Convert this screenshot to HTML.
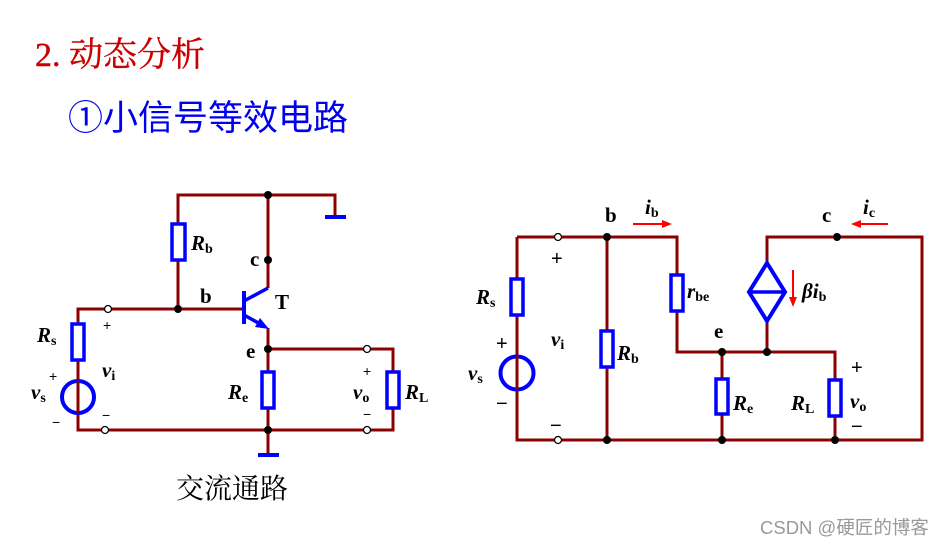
<!DOCTYPE html>
<html><head><meta charset="utf-8"><style>
html,body{margin:0;padding:0;background:#fff;}
svg{display:block;}
.w{stroke:#8b0000;stroke-width:3;fill:none;}
.r{stroke:#0000ff;stroke-width:3.5;fill:#fff;}
.l{font-family:"Liberation Serif",serif;font-weight:bold;font-size:21px;fill:#000;}
.s{font-size:14px;}
.p{font-family:"Liberation Sans",sans-serif;font-size:14px;fill:#000;}
.P{font-family:"Liberation Sans",sans-serif;font-size:20px;fill:#000;}
</style></head><body>
<svg width="947" height="546" viewBox="0 0 947 546" xmlns="http://www.w3.org/2000/svg">
<text x="35" y="66" font-family="Liberation Serif, 'Noto Serif CJK SC', serif" font-size="34" fill="#cc0000" stroke="#cc0000" stroke-width="0.4">2. 动态分析</text>
<text x="68" y="130" font-family="'Liberation Serif','Noto Sans CJK SC',sans-serif" font-size="35" fill="#0000ee">①小信号等效电路</text>
<text x="176" y="498" font-family="'Liberation Serif','Noto Serif CJK SC',serif" font-size="28" fill="#000">交流通路</text>
<text x="760" y="534" font-family="'Liberation Sans','Noto Sans CJK SC',sans-serif" font-size="18.5" fill="#999">CSDN @硬匠的博客</text>

<!-- LEFT CIRCUIT -->
<g class="w">
<polyline points="178,309 178,195 335,195 335,217"/>
<line x1="268" y1="195" x2="268" y2="288"/>
<line x1="268" y1="328" x2="268" y2="455"/>
<polyline points="244,309 78,309 78,430 393,430 393,349 268,349"/>
</g>
<line x1="325" y1="217" x2="346" y2="217" stroke="#0000ff" stroke-width="4"/>
<line x1="258" y1="455" x2="279" y2="455" stroke="#0000ff" stroke-width="4"/>
<rect class="r" x="172" y="224" width="13" height="36"/>
<rect class="r" x="72" y="324" width="12" height="36"/>
<rect class="r" x="262" y="372" width="12" height="36"/>
<rect class="r" x="387" y="372" width="12" height="36"/>
<circle cx="78" cy="397" r="16" stroke="#0000ff" stroke-width="4" fill="none"/>
<line x1="78" y1="381" x2="78" y2="413" stroke="#8b0000" stroke-width="3"/>
<!-- transistor -->
<line x1="244" y1="291" x2="244" y2="324" stroke="#0000ff" stroke-width="4"/>
<line x1="244" y1="301" x2="268" y2="288" stroke="#0000ff" stroke-width="3.5"/>
<line x1="244" y1="315" x2="262" y2="325" stroke="#0000ff" stroke-width="3.5"/>
<polygon points="269,329 255,327 260,318" fill="#0000ff"/>
<g fill="#000">
<circle cx="268" cy="195" r="4"/><circle cx="268" cy="260" r="4"/><circle cx="178" cy="309" r="4"/>
<circle cx="268" cy="349" r="4"/><circle cx="268" cy="430" r="4"/>
</g>
<g fill="#fff" stroke="#000" stroke-width="1.3">
<circle cx="108" cy="309" r="3.5"/><circle cx="105" cy="430" r="3.5"/>
<circle cx="367" cy="349" r="3.5"/><circle cx="367" cy="430" r="3.5"/>
</g>
<text class="l" x="191" y="250" font-style="italic">R<tspan class="s" font-style="normal" dy="3">b</tspan></text>
<text class="l" x="250" y="266">c</text>
<text class="l" x="200" y="303">b</text>
<text class="l" x="275" y="309">T</text>
<text class="l" x="246" y="358">e</text>
<text class="l" x="37" y="342" font-style="italic">R<tspan class="s" font-style="normal" dy="3">s</tspan></text>
<text class="l" x="228" y="399" font-style="italic">R<tspan class="s" font-style="normal" dy="3">e</tspan></text>
<text class="l" x="405" y="399" font-style="italic">R<tspan class="s" font-style="normal" dy="3">L</tspan></text>
<text class="l" x="102" y="377" font-style="italic">v<tspan class="s" font-style="normal" dy="3">i</tspan></text>
<text class="l" x="31" y="399" font-style="italic">v<tspan class="s" font-style="normal" dy="3">s</tspan></text>
<text class="l" x="353" y="399" font-style="italic">v<tspan class="s" font-style="normal" dy="3">o</tspan></text>
<text class="p" x="103" y="330">+</text><text class="p" x="49" y="381">+</text><text class="p" x="363" y="376">+</text>
<text class="p" x="52" y="427">−</text><text class="p" x="102" y="420">−</text><text class="p" x="363" y="419">−</text>

<!-- RIGHT CIRCUIT -->
<g class="w">
<polyline points="517,237 677,237 677,352 835,352 835,440"/>
<polyline points="517,237 517,440 922,440 922,237 767,237 767,352"/>
<line x1="607" y1="237" x2="607" y2="440"/>
<line x1="722" y1="352" x2="722" y2="440"/>
</g>
<rect class="r" x="511" y="279" width="12" height="36"/>
<rect class="r" x="601" y="331" width="12" height="36"/>
<rect class="r" x="671" y="275" width="12" height="36"/>
<rect class="r" x="716" y="379" width="12" height="35"/>
<rect class="r" x="829" y="380" width="12" height="36"/>
<circle cx="517" cy="373" r="16.5" stroke="#0000ff" stroke-width="4" fill="none"/>
<line x1="517" y1="356" x2="517" y2="390" stroke="#8b0000" stroke-width="3"/>
<polygon points="767,263 785,292 767,321 749,292" stroke="#0000ff" stroke-width="4" fill="#fff"/>
<line x1="749" y1="292" x2="785" y2="292" stroke="#0000ff" stroke-width="3.5"/>
<g fill="#000">
<circle cx="607" cy="237" r="4"/><circle cx="837" cy="237" r="4"/>
<circle cx="722" cy="352" r="4"/><circle cx="767" cy="352" r="4"/>
<circle cx="607" cy="440" r="4"/><circle cx="722" cy="440" r="4"/><circle cx="835" cy="440" r="4"/>
</g>
<g fill="#fff" stroke="#000" stroke-width="1.3">
<circle cx="558" cy="237" r="3.5"/><circle cx="558" cy="440" r="3.5"/>
</g>
<!-- red arrows -->
<line x1="633" y1="224" x2="664" y2="224" stroke="#ff0000" stroke-width="2"/>
<polygon points="672,224 662,220 662,228" fill="#ff0000"/>
<line x1="860" y1="224" x2="888" y2="224" stroke="#ff0000" stroke-width="2"/>
<polygon points="851,224 861,220 861,228" fill="#ff0000"/>
<line x1="793" y1="270" x2="793" y2="298" stroke="#ff0000" stroke-width="2"/>
<polygon points="793,307 789,297 797,297" fill="#ff0000"/>
<text class="l" x="605" y="222">b</text>
<text class="l" x="645" y="214" font-style="italic">i<tspan class="s" font-style="normal" dy="3">b</tspan></text>
<text class="l" x="822" y="222">c</text>
<text class="l" x="863" y="214" font-style="italic">i<tspan class="s" font-style="normal" dy="3">c</tspan></text>
<text class="l" x="802" y="298" font-style="italic">βi<tspan class="s" font-style="normal" dy="3">b</tspan></text>
<text class="l" x="687" y="298" font-style="italic">r<tspan class="s" font-style="normal" dy="3">be</tspan></text>
<text class="l" x="714" y="338">e</text>
<text class="l" x="476" y="304" font-style="italic">R<tspan class="s" font-style="normal" dy="3">s</tspan></text>
<text class="l" x="617" y="360" font-style="italic">R<tspan class="s" font-style="normal" dy="3">b</tspan></text>
<text class="l" x="733" y="410" font-style="italic">R<tspan class="s" font-style="normal" dy="3">e</tspan></text>
<text class="l" x="791" y="410" font-style="italic">R<tspan class="s" font-style="normal" dy="3">L</tspan></text>
<text class="l" x="850" y="408" font-style="italic">v<tspan class="s" font-style="normal" dy="3">o</tspan></text>
<text class="l" x="551" y="346" font-style="italic">v<tspan class="s" font-style="normal" dy="3">i</tspan></text>
<text class="l" x="468" y="380" font-style="italic">v<tspan class="s" font-style="normal" dy="3">s</tspan></text>
<text class="P" x="551" y="265">+</text><text class="P" x="496" y="350">+</text><text class="P" x="851" y="374">+</text>
<text class="P" x="496" y="410">−</text><text class="P" x="550" y="432">−</text><text class="P" x="851" y="433">−</text>
</svg>
</body></html>
